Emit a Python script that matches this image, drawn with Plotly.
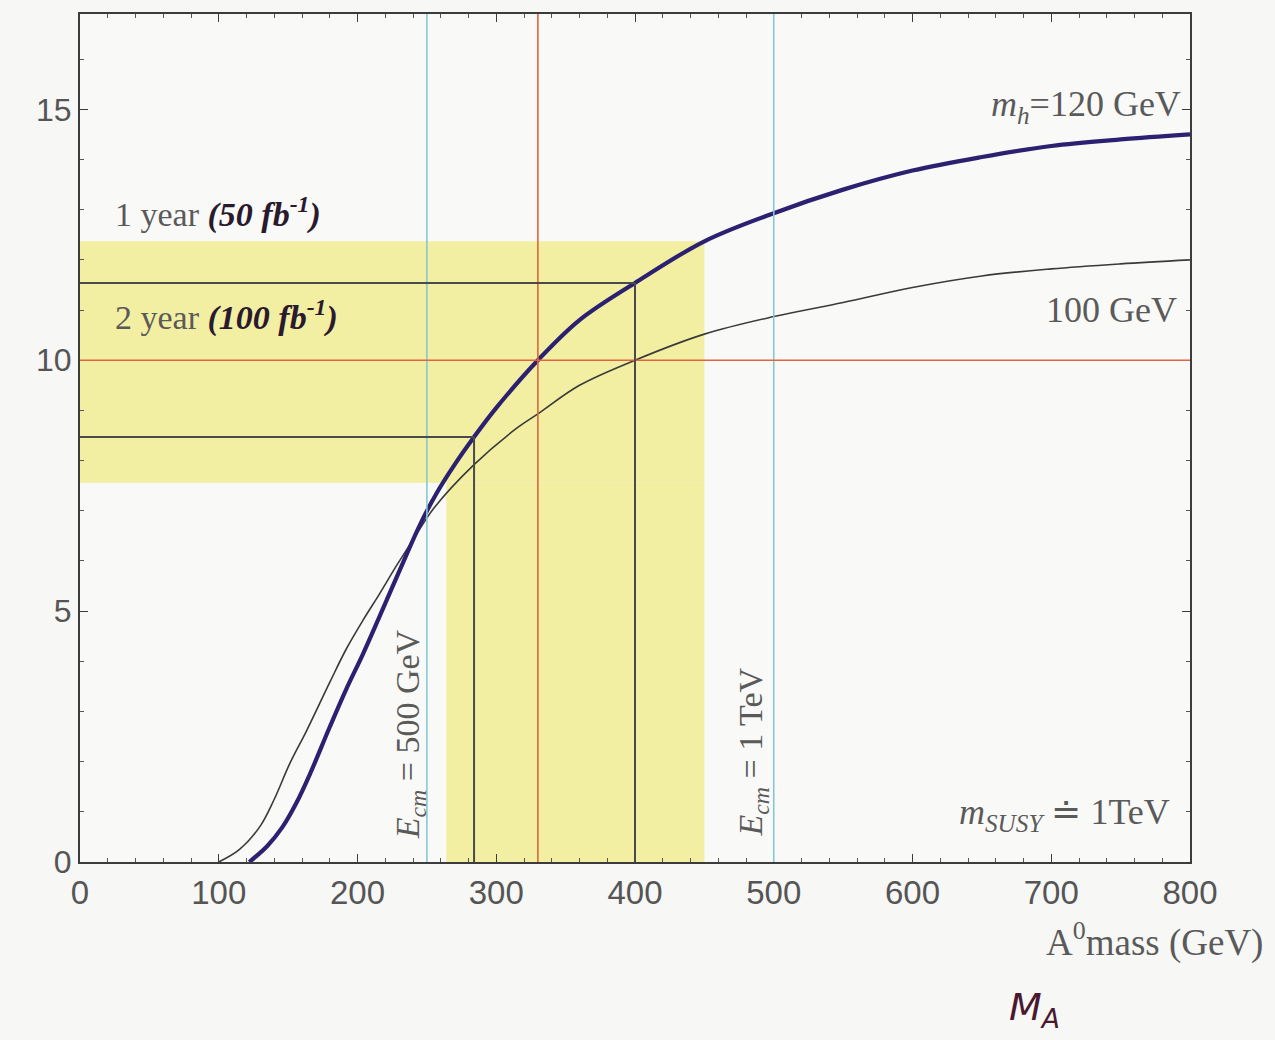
import plotly.graph_objects as go

# A0 mass (GeV) vs. reach curves for two light-Higgs masses
mA_120 = [122, 135, 146, 156, 166, 180, 192, 204, 216, 231, 245, 257, 270, 284, 300, 330,
          360, 400, 450, 500, 550, 600, 650, 700, 750, 800]
val_120 = [0.0, 0.32, 0.7, 1.18, 1.77, 2.69, 3.45, 4.15, 4.9, 5.85, 6.72, 7.35, 7.92, 8.47,
           9.05, 10.0, 10.8, 11.54, 12.37, 12.93, 13.4, 13.78, 14.05, 14.27, 14.4, 14.5]

mA_100 = [100, 115, 130, 140, 151, 163, 180, 192, 204, 216, 228, 240, 255, 284, 315, 330,
          360, 400, 450, 500, 550, 600, 650, 700, 750, 800]
val_100 = [0.0, 0.25, 0.72, 1.25, 1.95, 2.6, 3.58, 4.25, 4.82, 5.35, 5.9, 6.42, 7.05, 7.92,
           8.65, 8.93, 9.5, 10.0, 10.52, 10.87, 11.15, 11.45, 11.68, 11.82, 11.92, 12.0]

# collider energies (E_cm = 500 GeV, 1 TeV) -> kinematic limits in m_A
ecm_limits = [250, 500]
# red guide lines
red_x = 330
red_y = 10
# luminosity reach points on the m_h = 120 GeV curve (2 year, 1 year)
lum_x = [284, 400]
lum_y = [8.47, 11.54]
# highlighted band
band_y = [7.56, 12.37]
band_x = [264, 450]

x_ticks = [0, 100, 200, 300, 400, 500, 600, 700, 800]
y_ticks = [0, 5, 10, 15]
x_range = [0, 800]
y_range = [0, 16.9]

YELLOW = "#f2eea2"
CYAN = "#86c8d2"
RED = "#e2643c"
DARK = "#4a4a4a"
SERIF = "Liberation Serif"
SANS = "Liberation Sans"
TXT = "#5a5a5a"
INK = "#2a1a2e"

fig = go.Figure()

shapes = []
# yellow band: horizontal strip plus vertical strip
shapes.append(dict(type="rect", xref="x", yref="y", x0=x_range[0], x1=band_x[1],
                   y0=band_y[0], y1=band_y[1], fillcolor=YELLOW, line_width=0, layer="below"))
shapes.append(dict(type="rect", xref="x", yref="y", x0=band_x[0], x1=band_x[1],
                   y0=y_range[0], y1=band_y[0], fillcolor=YELLOW, line_width=0, layer="below"))
# E_cm lines
for xv in ecm_limits:
    shapes.append(dict(type="line", xref="x", yref="y", x0=xv, x1=xv, y0=y_range[0], y1=y_range[1],
                       line=dict(color=CYAN, width=1.6)))
# red cross
shapes.append(dict(type="line", xref="x", yref="y", x0=red_x, x1=red_x, y0=y_range[0], y1=y_range[1],
                   line=dict(color=RED, width=1.6)))
shapes.append(dict(type="line", xref="x", yref="y", x0=x_range[0], x1=x_range[1], y0=red_y, y1=red_y,
                   line=dict(color=RED, width=1.6)))
# luminosity reach guides
for xv, yv in zip(lum_x, lum_y):
    shapes.append(dict(type="line", xref="x", yref="y", x0=x_range[0], x1=xv, y0=yv, y1=yv,
                       line=dict(color=DARK, width=2)))
    shapes.append(dict(type="line", xref="x", yref="y", x0=xv, x1=xv, y0=y_range[0], y1=yv,
                       line=dict(color=DARK, width=2)))

fig.add_trace(go.Scatter(x=mA_100, y=val_100, mode="lines",
                         line=dict(color="#3a3a3a", width=1.6, shape="spline", smoothing=1.0),
                         showlegend=False, hoverinfo="skip"))
fig.add_trace(go.Scatter(x=mA_120, y=val_120, mode="lines",
                         line=dict(color="#2b2170", width=4.2, shape="spline", smoothing=1.0),
                         showlegend=False, hoverinfo="skip"))

ann = []
ann.append(dict(x=24, y=12.95, xref="x", yref="y", xanchor="left", yanchor="middle", showarrow=False,
                text=f"1 year <span style='color:{INK}'><b><i>(50 fb<sup>-1</sup>)</i></b></span>",
                font=dict(family=SERIF, size=34, color=TXT)))
ann.append(dict(x=24, y=10.9, xref="x", yref="y", xanchor="left", yanchor="middle", showarrow=False,
                text=f"2 year <span style='color:{INK}'><b><i>(100 fb<sup>-1</sup>)</i></b></span>",
                font=dict(family=SERIF, size=34, color=TXT)))
ann.append(dict(x=795, y=15.05, xref="x", yref="y", xanchor="right", yanchor="middle", showarrow=False,
                text="<i>m</i><sub><i>h</i></sub>=120 GeV",
                font=dict(family=SERIF, size=36, color=TXT)))
ann.append(dict(x=792, y=11.0, xref="x", yref="y", xanchor="right", yanchor="middle", showarrow=False,
                text="100 GeV", font=dict(family=SERIF, size=36, color=TXT)))
ann.append(dict(x=787, y=0.95, xref="x", yref="y", xanchor="right", yanchor="middle", showarrow=False,
                text="<i>m</i><sub><i>SUSY</i></sub> ≐ 1TeV", font=dict(family=SERIF, size=36, color=TXT)))
ann.append(dict(x=238, y=2.55, xref="x", yref="y", xanchor="center", yanchor="middle", showarrow=False,
                textangle=-90, text="<i>E</i><sub><i>cm</i></sub> = 500 GeV",
                font=dict(family=SERIF, size=34, color=TXT)))
ann.append(dict(x=485, y=2.2, xref="x", yref="y", xanchor="center", yanchor="middle", showarrow=False,
                textangle=-90, text="<i>E</i><sub><i>cm</i></sub> = 1 TeV",
                font=dict(family=SERIF, size=34, color=TXT)))
# x-axis title and handwritten symbol below it
ann.append(dict(x=1.068, y=-0.092, xref="paper", yref="paper", xanchor="right", yanchor="middle",
                showarrow=False, text="A<sup>0</sup>mass (GeV)",
                font=dict(family=SERIF, size=37, color=TXT)))
ann.append(dict(x=0.86, y=-0.174, xref="paper", yref="paper", xanchor="center", yanchor="middle",
                showarrow=False, text="<i>M<sub>A</sub></i>",
                font=dict(family="DejaVu Sans", size=38, color="#4a1830")))

fig.update_layout(
    width=1275, height=1040,
    margin=dict(l=80, r=85, t=12, b=178),
    paper_bgcolor="#f7f7f5",
    plot_bgcolor="#f9f9f7",
    shapes=shapes,
    annotations=ann,
    showlegend=False,
)
fig.update_xaxes(range=x_range, tickvals=x_ticks, ticktext=[str(v) for v in x_ticks],
                 showgrid=False, zeroline=False, showline=True, linecolor="#3c3c3c", linewidth=2,
                 mirror="ticks", ticks="inside", ticklen=8, tickcolor="#3c3c3c",
                 minor=dict(ticks="inside", ticklen=4, dtick=20, tickcolor="#555"),
                 tickfont=dict(family=SANS, size=33, color="#555"))
fig.update_yaxes(range=y_range, tickvals=y_ticks, ticktext=[str(v) for v in y_ticks],
                 showgrid=False, zeroline=False, showline=True, linecolor="#3c3c3c", linewidth=2,
                 mirror="ticks", ticks="inside", ticklen=8, tickcolor="#3c3c3c",
                 minor=dict(ticks="inside", ticklen=4, dtick=1, tickcolor="#555"),
                 tickfont=dict(family=SANS, size=32, color="#555"))

fig.write_html("out.html")
